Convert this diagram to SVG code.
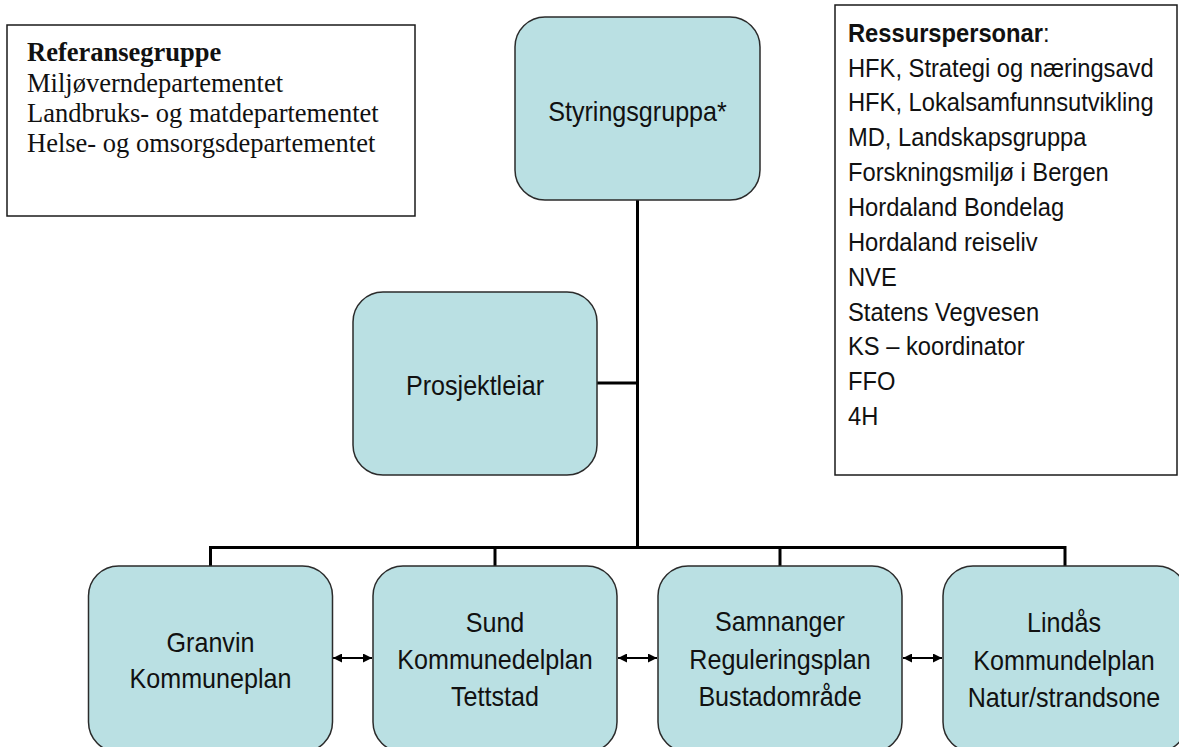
<svg xmlns="http://www.w3.org/2000/svg" width="1179" height="747" viewBox="0 0 1179 747">
  <style>
    .node { fill: #BAE0E3; stroke: #2b2b2b; stroke-width: 1.5; }
    .box { fill: #ffffff; stroke: #1a1a1a; stroke-width: 1.5; }
    .conn { fill: none; stroke: #000000; stroke-width: 3; }
    .arr { fill: none; stroke: #000000; stroke-width: 2; marker-start: url(#ah); marker-end: url(#ah); }
    .nt { font-family: "Liberation Sans", Arial, sans-serif; font-size: 27px; fill: #111111; text-anchor: middle; }
    .rt { font-family: "Liberation Sans", Arial, sans-serif; font-size: 25.5px; fill: #111111; }
    .ft { font-family: "Liberation Serif", "Times New Roman", serif; font-size: 26.5px; fill: #111111; }
  </style>
  <defs>
    <marker id="ah" viewBox="0 0 9 9" refX="9" refY="4.5" markerWidth="9" markerHeight="9" markerUnits="userSpaceOnUse" orient="auto-start-reverse">
      <path d="M0,0 L9,4.5 L0,9 z" fill="#000000"/>
    </marker>
  </defs>

  <rect width="1179" height="747" fill="#ffffff"/>

  <g id="connectors">
    <path class="conn" d="M637.5,200 V547.5"/>
    <path class="conn" d="M597,383 H637.5"/>
    <path class="conn" d="M210.5,566 V547.5 H1065 V566"/>
    <path class="conn" d="M495,547.5 V566"/>
    <path class="conn" d="M780,547.5 V566"/>
    <line class="arr" x1="333" y1="658" x2="372" y2="658"/>
    <line class="arr" x1="618" y1="658" x2="657" y2="658"/>
    <line class="arr" x1="903" y1="658" x2="942" y2="658"/>
  </g>

  <g id="referansegruppe">
    <rect class="box" x="7" y="25" width="408" height="191"/>
    <text class="ft" x="27" y="60.5" font-weight="bold">Referansegruppe</text>
    <text class="ft" x="27" y="91.5">Miljøverndepartementet</text>
    <text class="ft" x="27" y="121.5">Landbruks- og matdepartementet</text>
    <text class="ft" x="27" y="151.5">Helse- og omsorgsdepartementet</text>
  </g>

  <g id="ressurspersonar">
    <rect class="box" x="835" y="5" width="342" height="470"/>
    <text class="rt" transform="translate(848,41.7) scale(0.93,1)"><tspan font-weight="bold">Ressurspersonar</tspan>:</text>
    <text class="rt" transform="translate(848,76.5) scale(0.93,1)">HFK, Strategi og næringsavd</text>
    <text class="rt" transform="translate(848,111.4) scale(0.93,1)">HFK, Lokalsamfunnsutvikling</text>
    <text class="rt" transform="translate(848,146.2) scale(0.93,1)">MD, Landskapsgruppa</text>
    <text class="rt" transform="translate(848,181.1) scale(0.93,1)">Forskningsmiljø i Bergen</text>
    <text class="rt" transform="translate(848,215.9) scale(0.93,1)">Hordaland Bondelag</text>
    <text class="rt" transform="translate(848,250.8) scale(0.93,1)">Hordaland reiseliv</text>
    <text class="rt" transform="translate(848,285.6) scale(0.93,1)">NVE</text>
    <text class="rt" transform="translate(848,320.5) scale(0.93,1)">Statens Vegvesen</text>
    <text class="rt" transform="translate(848,355.3) scale(0.93,1)">KS – koordinator</text>
    <text class="rt" transform="translate(848,390.2) scale(0.93,1)">FFO</text>
    <text class="rt" transform="translate(848,425) scale(0.93,1)">4H</text>
  </g>

  <g id="styringsgruppa">
    <rect class="node" x="515" y="17" width="245" height="183" rx="30" ry="30"/>
    <text class="nt" transform="translate(637.5,121) scale(0.93,1)">Styringsgruppa*</text>
  </g>

  <g id="prosjektleiar">
    <rect class="node" x="353" y="292" width="244" height="183" rx="30" ry="30"/>
    <text class="nt" transform="translate(475,395) scale(0.93,1)">Prosjektleiar</text>
  </g>

  <g id="granvin">
    <rect class="node" x="88.5" y="566" width="244" height="186" rx="30" ry="30"/>
    <text class="nt" transform="translate(210.5,651.5) scale(0.93,1)">Granvin</text>
    <text class="nt" transform="translate(210.5,688) scale(0.93,1)">Kommuneplan</text>
  </g>

  <g id="sund">
    <rect class="node" x="373" y="566" width="244" height="186" rx="30" ry="30"/>
    <text class="nt" transform="translate(495,631.5) scale(0.93,1)">Sund</text>
    <text class="nt" transform="translate(495,669) scale(0.93,1)">Kommunedelplan</text>
    <text class="nt" transform="translate(495,706) scale(0.93,1)">Tettstad</text>
  </g>

  <g id="samnanger">
    <rect class="node" x="658" y="566" width="244" height="186" rx="30" ry="30"/>
    <text class="nt" transform="translate(780,631) scale(0.93,1)">Samnanger</text>
    <text class="nt" transform="translate(780,668.5) scale(0.93,1)">Reguleringsplan</text>
    <text class="nt" transform="translate(780,705.5) scale(0.93,1)">Bustadområde</text>
  </g>

  <g id="lindas">
    <rect class="node" x="943" y="566" width="244" height="186" rx="30" ry="30"/>
    <text class="nt" transform="translate(1064,631.5) scale(0.93,1)">Lindås</text>
    <text class="nt" transform="translate(1064,669.5) scale(0.93,1)">Kommundelplan</text>
    <text class="nt" transform="translate(1064,706.5) scale(0.93,1)">Natur/strandsone</text>
  </g>
</svg>
